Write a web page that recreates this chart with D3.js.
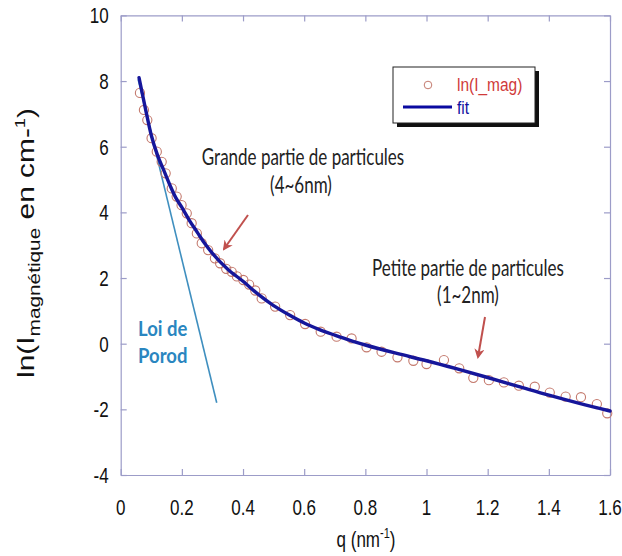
<!DOCTYPE html>
<html>
<head>
<meta charset="utf-8">
<script src="https://cdn.jsdelivr.net/npm/d3@7"></script>
<style>
  html, body { margin: 0; padding: 0; background: #fff; }
  svg { display: block; }
</style>
</head>
<body>
<svg id="chart" width="622" height="556"></svg>
<script>
// ---------- data ----------
const dataQ = [0.063,0.076,0.087,0.101,0.118,0.134,0.147,0.167,0.183,0.199,0.216,0.232,0.249,0.265,0.286,0.308,0.325,0.345,0.363,0.38,0.401,0.42,0.44,0.461,0.505,0.554,0.603,0.654,0.706,0.755,0.804,0.853,0.905,0.957,1.0,1.057,1.107,1.153,1.204,1.253,1.302,1.354,1.403,1.455,1.505,1.557,1.591];
const dataLnI = [7.64,7.12,6.81,6.26,5.85,5.54,5.19,4.73,4.48,4.22,3.97,3.67,3.36,3.06,2.85,2.60,2.45,2.28,2.19,2.05,1.94,1.80,1.62,1.38,1.13,0.87,0.60,0.365,0.213,0.16,-0.11,-0.245,-0.415,-0.52,-0.62,-0.50,-0.75,-1.04,-1.11,-1.18,-1.28,-1.31,-1.49,-1.61,-1.63,-1.84,-2.12];

const fitQ = [0.06,0.08,0.1,0.12,0.14,0.16,0.18,0.2,0.225,0.25,0.275,0.3,0.35,0.4,0.45,0.5,0.55,0.6,0.65,0.7,0.75,0.8,0.9,1.0,1.1,1.2,1.3,1.4,1.5,1.6];
const fitLnI = [8.1,7.2,6.35,5.75,5.3,4.85,4.45,4.15,3.75,3.4,3.05,2.75,2.27,1.9,1.5,1.16,0.88,0.63,0.43,0.26,0.10,-0.04,-0.29,-0.52,-0.77,-1.03,-1.30,-1.57,-1.82,-2.05];

const porodQ = [0.057, 0.314];
const porodLnI = [8.05, -1.8];

const xTicks = [0,0.2,0.4,0.6,0.8,1,1.2,1.4,1.6];
const xTickLabels = ["0","0.2","0.4","0.6","0.8","1","1.2","1.4","1.6"];
const yTicks = [-4,-2,0,2,4,6,8,10];
const yTickLabels = ["-4","-2","0","2","4","6","8","10"];

const legendLabels = ["ln(I_mag)", "fit"];

// ---------- layout ----------
const svg = d3.select("#chart");
const L = 120.7, R = 610, T = 15.4, B = 475;
const SY = 1.3; // vertical stretch of the reference text
const x = d3.scaleLinear().domain([0,1.6]).range([L,R]);
const y = d3.scaleLinear().domain([-4,10]).range([B,T]);
const axisColor = "#9c9cc8";

function styleAxis(g){
  g.select(".domain").attr("stroke", axisColor).attr("stroke-width",1.2);
  g.selectAll(".tick line").attr("stroke", axisColor).attr("stroke-width",1.2);
}
svg.append("g").attr("transform",`translate(0,${B})`)
  .call(d3.axisBottom(x).tickValues(xTicks).tickSizeInner(-6).tickSizeOuter(0).tickFormat(""))
  .call(styleAxis);
svg.append("g").attr("transform",`translate(0,${T})`)
  .call(d3.axisTop(x).tickValues(xTicks).tickSizeInner(-6).tickSizeOuter(0).tickFormat(""))
  .call(styleAxis);
svg.append("g").attr("transform",`translate(${L},0)`)
  .call(d3.axisLeft(y).tickValues(yTicks).tickSizeInner(-6).tickSizeOuter(0).tickFormat(""))
  .call(styleAxis);
svg.append("g").attr("transform",`translate(${R},0)`)
  .call(d3.axisRight(y).tickValues(yTicks).tickSizeInner(-6).tickSizeOuter(0).tickFormat(""))
  .call(styleAxis);

// tick labels
const tickFont = "'Liberation Sans', Arial, sans-serif";
svg.append("g").selectAll("text").data(xTicks).join("text")
  .attr("transform", d => `translate(${x(d)},${B+40}) scale(1,${SY})`)
  .attr("text-anchor","middle").attr("font-family",tickFont).attr("font-size",17)
  .attr("fill","#111").text((d,i) => xTickLabels[i]);
svg.append("g").selectAll("text").data(yTicks).join("text")
  .attr("transform", d => `translate(${L-12},${y(d)+8}) scale(1,${SY})`)
  .attr("text-anchor","end").attr("font-family",tickFont).attr("font-size",17)
  .attr("fill","#111").text((d,i) => yTickLabels[i]);

// Porod line
svg.append("path")
  .datum(porodQ.map((q,i)=>[q,porodLnI[i]]))
  .attr("d", d3.line().x(d=>x(d[0])).y(d=>y(d[1])))
  .attr("fill","none").attr("stroke","#3f8fbf").attr("stroke-width",1.6);

// data circles
svg.append("g").selectAll("circle").data(dataQ).join("circle")
  .attr("cx", d => x(d)).attr("cy", (d,i) => y(dataLnI[i])).attr("r",4.6)
  .attr("fill","none").attr("stroke","#c47a6e").attr("stroke-width",1.1);

// fit line
svg.append("path")
  .datum(fitQ.map((q,i)=>[q,fitLnI[i]]))
  .attr("d", d3.line().x(d=>x(d[0])).y(d=>y(d[1])).curve(d3.curveMonotoneX))
  .attr("fill","none").attr("stroke","#16169a").attr("stroke-width",3.4)
  .attr("stroke-linecap","round");

// annotations
const annFont = "Lato, 'Open Sans', sans-serif";
function annText(txt, cx, by, opts={}){
  return svg.append("text")
    .attr("transform",`translate(${cx},${by}) scale(1,${opts.sy || SY})`)
    .attr("text-anchor", opts.anchor || "middle")
    .attr("font-family", annFont).attr("font-size", opts.size || 17)
    .attr("font-weight", opts.weight || "normal")
    .attr("fill", opts.color || "#222").text(txt);
}
annText("Grande partie de particules", 303, 165);
annText("(4~6nm)", 301, 193);
annText("Petite partie de particules", 468, 276);
annText("(1~2nm)", 468, 303);
annText("Loi de", 138, 336, {anchor:"start", color:"#2a86c0", weight:"bold", size:18.5, sy:1.17});
annText("Porod", 138, 363, {anchor:"start", color:"#2a86c0", weight:"bold", size:18.5, sy:1.17});

// arrows
const defs = svg.append("defs");
defs.append("marker").attr("id","ah").attr("viewBox","0 0 10 10")
  .attr("refX",8).attr("refY",5).attr("markerWidth",5).attr("markerHeight",5)
  .attr("orient","auto")
  .append("path").attr("d","M0,0 L10,5 L0,10 L3,5 Z").attr("fill","#c0504d");
function arrow(x1,y1,x2,y2){
  svg.append("line").attr("x1",x1).attr("y1",y1).attr("x2",x2).attr("y2",y2)
    .attr("stroke","#c0504d").attr("stroke-width",2).attr("marker-end","url(#ah)");
}
arrow(248,215,224,249);
arrow(485,317,478,357);

// legend
const lg = svg.append("g");
lg.append("rect").attr("x",397).attr("y",71).attr("width",142).attr("height",56).attr("fill","#111");
lg.append("rect").attr("x",393).attr("y",67).attr("width",142).attr("height",56)
  .attr("fill","#fff").attr("stroke","#222").attr("stroke-width",1);
lg.append("circle").attr("cx",428).attr("cy",85).attr("r",3.8)
  .attr("fill","none").attr("stroke","#c47a6e").attr("stroke-width",1);
lg.append("line").attr("x1",403).attr("x2",452).attr("y1",107).attr("y2",107)
  .attr("stroke","#0a0aa0").attr("stroke-width",3);
lg.append("text").attr("transform",`translate(457,91) scale(1,1.22)`)
  .attr("font-family",tickFont).attr("font-size",15.5).attr("fill","#d03a3a").text(legendLabels[0]);
lg.append("text").attr("transform",`translate(457,114) scale(1,1.22)`)
  .attr("font-family",tickFont).attr("font-size",15.5).attr("fill","#1010a0").text(legendLabels[1]);

// axis titles
const xl = svg.append("text").attr("transform",`translate(366,547) scale(1,${SY})`)
  .attr("text-anchor","middle").attr("font-family",tickFont).attr("font-size",17).attr("fill","#111");
xl.append("tspan").text("q (nm");
xl.append("tspan").attr("font-size",11).attr("dy",-7).text("-1");
xl.append("tspan").attr("dy",7).text(")");

const yl = svg.append("text").attr("transform",`translate(34,243) rotate(-90) scale(1.3,1)`)
  .attr("text-anchor","middle").attr("font-family",tickFont).attr("font-size",23).attr("fill","#111");
yl.append("tspan").text("ln(I");
yl.append("tspan").attr("font-size",16).attr("dy",6).text("magnétique");
yl.append("tspan").attr("dy",-6).text(" en cm-");
yl.append("tspan").attr("font-size",14).attr("dy",-9).text("1");
yl.append("tspan").attr("dy",9).text(")");
</script>
</body>
</html>
